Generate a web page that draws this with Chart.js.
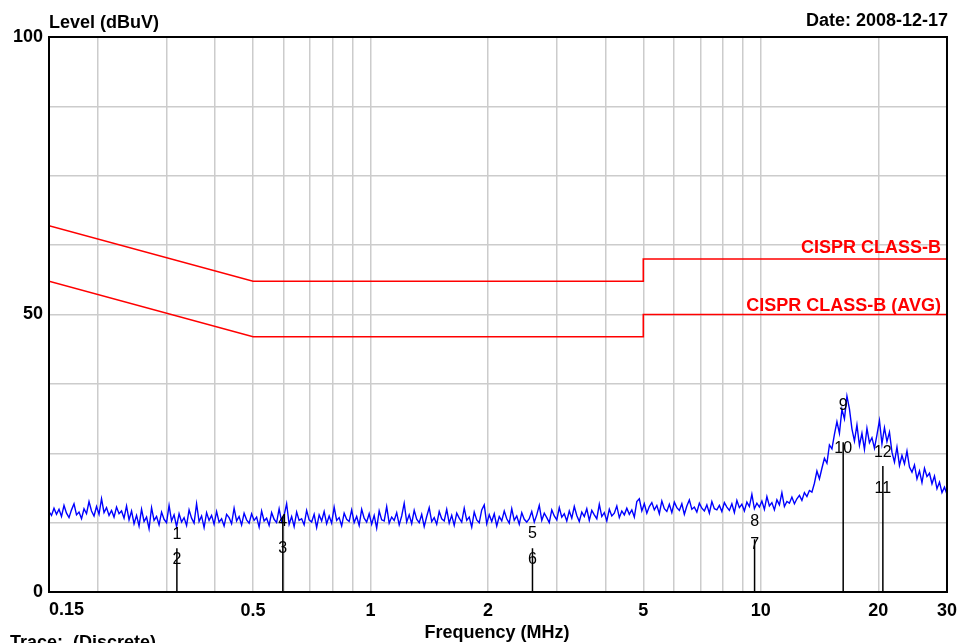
<!DOCTYPE html>
<html>
<head>
<meta charset="utf-8">
<script src="https://cdn.jsdelivr.net/npm/chart.js@4.4.1/dist/chart.umd.min.js"></script>
<style>
  body { margin: 0; background: #fff; }
  canvas { display: block; }
</style>
</head>
<body>
<canvas id="emiChart" width="965" height="643"></canvas>
<script>
// sweep: 0.15 - 30 MHz, levels (dBuV)
const sweepStart = 0.15;
const sweepStop = 30;
const traceLevels = [
  14.5, 13.8, 15.1, 14.0, 14.9, 13.6, 15.6, 14.2, 13.4, 14.8, 15.9, 13.9, 14.4, 13.2, 15.0, 14.1,
  16.3, 14.6, 13.7, 15.4, 14.0, 16.8, 14.3, 15.2, 13.8, 14.7, 13.5, 15.3, 14.1, 14.6, 13.3, 15.5,
  13.0, 14.6, 12.3, 13.8, 11.9, 14.9, 12.7, 13.5, 11.4, 15.2, 12.9, 13.6, 12.1, 14.4, 13.1, 12.5,
  15.6, 12.8, 13.9, 11.8, 14.1, 12.6, 13.4, 12.0, 14.8, 13.3, 12.4, 15.9, 12.7, 13.7, 11.6, 14.3,
  12.9, 13.8, 12.2, 14.5, 12.6, 13.2, 11.9, 14.0, 13.4, 12.3, 15.1, 12.8, 13.6, 12.1, 14.2, 13.0,
  12.4, 14.1, 12.9, 13.5, 11.7, 14.6, 12.8, 13.3, 12.0, 14.3, 13.1, 12.5, 15.0, 12.7, 13.8, 15.9,
  12.2, 13.6, 11.8, 14.4, 12.9, 13.2, 12.1, 14.7, 13.0, 12.6, 14.0, 11.6, 13.9, 12.8, 14.5, 12.3,
  13.7, 12.4, 15.3, 12.9, 13.4, 11.9, 14.2, 13.1, 12.7, 14.8, 12.5, 13.6, 12.0, 14.9, 13.3, 12.6,
  14.1, 12.2, 13.8, 11.5, 14.6, 13.0, 12.8, 15.4, 12.4, 13.5, 12.9, 14.3, 12.1, 13.7, 16.0, 12.6,
  13.9, 12.3, 14.7, 13.1, 12.5, 14.0, 11.8, 13.6, 15.2, 12.7, 13.4, 12.2, 14.5, 13.2, 12.8, 14.9,
  12.4, 13.8, 12.0, 14.2, 13.3, 12.6, 15.1, 12.9, 13.5, 11.7, 14.4, 13.0, 12.5, 14.8, 15.7, 12.3,
  13.9, 12.7, 14.1, 11.9, 13.6, 12.8, 14.6, 13.2, 12.4, 15.0, 12.9, 13.7, 12.2, 14.3, 13.1, 12.6,
  13.2, 14.5, 12.6, 13.9, 15.6, 12.9, 14.2, 13.4, 12.5, 14.8, 13.7, 13.0, 15.2, 13.5, 14.1, 12.8,
  14.6, 13.3, 15.4, 13.8, 12.7, 14.4, 13.6, 15.0, 12.9, 14.7, 13.9, 13.2, 15.8, 13.6, 14.3, 12.8,
  14.9, 13.7, 14.2, 15.5, 13.4, 14.6, 13.9, 15.1, 14.0, 14.8, 13.5, 16.3,
  16.8, 14.6, 15.9, 14.2, 15.4, 16.1, 14.8, 15.6, 14.1, 16.4, 15.0, 14.5, 15.8, 14.3, 16.2, 15.2,
  14.7, 15.9, 14.0, 15.5, 16.6, 14.9, 15.3, 14.4, 16.0, 15.1, 14.6, 15.7, 14.2, 16.3, 15.0, 14.8,
  15.6, 14.5, 16.1, 15.3, 14.7, 15.9, 14.3, 16.5, 15.2, 15.8, 14.6, 16.2, 15.4, 17.6, 15.0, 16.0,
  15.3, 16.4, 14.9, 17.2, 15.5, 16.1, 14.8, 16.6, 15.7, 17.9, 15.4, 16.3,
  16.0, 17.1, 15.9, 16.8, 17.4, 16.5, 17.9, 17.2, 18.3,
  18.0, 19.6, 21.8, 20.4, 22.3,
  24.1, 23.2, 26.5, 25.8, 28.4,
  30.7, 28.6, 32.9, 31.2, 35.3, 33.0,
  29.4, 27.2, 30.1, 26.4, 28.6, 25.7, 29.5, 26.9, 27.8, 25.9,
  28.3, 30.9, 26.7, 29.6, 27.1, 28.8,
  25.2, 23.4, 26.1, 22.8, 24.6, 23.1, 25.4, 22.5,
  21.6, 22.9, 20.4, 21.8, 19.7, 22.3, 20.8, 21.4, 19.5, 20.9,
  18.6, 19.8, 17.9, 18.9, 17.6
];

// CISPR 22 class B limits
const limitFreq = [0.15, 0.5, 5, 5, 30];
const qpLimit = [66, 56, 56, 60, 60];
const avgLimit = [56, 46, 46, 50, 50];

// markers
const markerNo = ['1', '2', '3', '4', '5', '6', '7', '8', '9', '10', '11', '12'];
const markerFreq = [0.319, 0.319, 0.596, 0.596, 2.60, 2.60, 9.64, 9.64, 16.26, 16.26, 20.55, 20.55];
const markerLevel = [10.3, 5.8, 7.9, 12.6, 10.6, 5.9, 8.5, 12.6, 33.5, 25.8, 18.7, 25.2];
const stemFreq = [0.319, 0.596, 2.60, 9.64, 16.26, 20.55];
const stemTop = [7.9, 13.5, 7.9, 9.5, 27.0, 22.7];

// axes
const xGrid = [0.15, 0.2, 0.3, 0.4, 0.5, 0.6, 0.7, 0.8, 0.9, 1, 2, 3, 4, 5, 6, 7, 8, 9, 10, 20, 30];
const xLabels = [0.5, 1, 2, 5, 10, 20, 30];
const yGrid = [0, 12.5, 25, 37.5, 50, 62.5, 75, 87.5, 100];
const yLabels = [0, 50, 100];

const FONT = "'Liberation Sans', Arial, sans-serif";

const traceData = traceLevels.map((v, i) => ({
    x: sweepStart * Math.pow(sweepStop / sweepStart, i / (traceLevels.length - 1)),
    y: v
}));
const stemData = [];
stemFreq.forEach((f, i) => {
    stemData.push({x: f, y: 0}, {x: f, y: stemTop[i]}, {x: f, y: null});
});

const textPlugin = {
    id: 'emiText',
    afterDatasetsDraw(chart) {
        const c = chart.ctx;
        const a = chart.chartArea;
        const xs = chart.scales.x;
        const ys = chart.scales.y;
        c.save();
        // frame
        c.strokeStyle = '#000';
        c.lineWidth = 2;
        c.strokeRect(a.left, a.top, a.right - a.left, a.bottom - a.top);

        // limit names
        c.fillStyle = '#ff0000';
        c.font = 'bold 18px ' + FONT;
        c.textAlign = 'right';
        c.textBaseline = 'alphabetic';
        c.fillText('CISPR CLASS-B', a.right - 6, ys.getPixelForValue(qpLimit[4]) - 6);
        c.fillText('CISPR CLASS-B (AVG)', a.right - 6, ys.getPixelForValue(avgLimit[4]) - 4);

        // marker numbers
        c.fillStyle = '#000';
        c.font = '16px ' + FONT;
        c.textAlign = 'center';
        c.textBaseline = 'middle';
        markerNo.forEach((n, i) => {
            c.fillText(n, xs.getPixelForValue(markerFreq[i]), ys.getPixelForValue(markerLevel[i]));
        });

        // titles
        c.font = 'bold 18px ' + FONT;
        c.textBaseline = 'alphabetic';
        c.textAlign = 'left';
        c.fillText('Level (dBuV)', a.left, 28);
        c.fillText('0.15', xs.getPixelForValue(0.15), 615);
        c.fillText('Trace:  (Discrete)', 10, 648);
        c.textAlign = 'right';
        c.fillText('Date: 2008-12-17', 948, 26);
        c.textAlign = 'center';
        c.fillText('Frequency (MHz)', 497, 638);
        c.restore();
    }
};

const ctx = document.getElementById('emiChart').getContext('2d');

const emiChart = new Chart(ctx, {
    type: 'line',
    data: {
        datasets: [{
            label: 'Markers',
            data: stemData,
            borderColor: '#000000',
            borderWidth: 1.5,
            pointRadius: 0,
            spanGaps: false
        }, {
            label: 'Trace',
            data: traceData,
            borderColor: '#0000ff',
            borderWidth: 1.4,
            pointRadius: 0
        }, {
            label: 'CISPR CLASS-B',
            data: limitFreq.map((f, i) => ({x: f, y: qpLimit[i]})),
            borderColor: '#ff0000',
            borderWidth: 1.6,
            pointRadius: 0
        }, {
            label: 'CISPR CLASS-B (AVG)',
            data: limitFreq.map((f, i) => ({x: f, y: avgLimit[i]})),
            borderColor: '#ff0000',
            borderWidth: 1.6,
            pointRadius: 0
        }]
    },
    options: {
        responsive: false,
        animation: false,
        layout: {padding: {top: 37, right: 18, left: 0, bottom: 0}},
        scales: {
            x: {
                type: 'logarithmic',
                min: 0.15,
                max: 30,
                afterBuildTicks: s => { s.ticks = xGrid.map(v => ({value: v})); },
                afterFit: s => { s.height = 51; },
                ticks: {
                    autoSkip: false,
                    maxRotation: 0,
                    padding: 8,
                    color: '#000',
                    font: {size: 18, weight: 'bold', family: FONT},
                    callback: v => xLabels.includes(v) ? String(v) : ''
                },
                grid: {color: '#cccccc', lineWidth: 1.5, drawTicks: false},
                border: {color: '#000', width: 2}
            },
            y: {
                min: 0,
                max: 100,
                afterBuildTicks: s => { s.ticks = yGrid.map(v => ({value: v})); },
                afterFit: s => { s.width = 49; },
                ticks: {
                    autoSkip: false,
                    padding: 6,
                    color: '#000',
                    font: {size: 18, weight: 'bold', family: FONT},
                    callback: v => yLabels.includes(v) ? String(v) : ''
                },
                grid: {color: '#cccccc', lineWidth: 1.5, drawTicks: false},
                border: {color: '#000', width: 2}
            }
        },
        plugins: {
            legend: {display: false},
            tooltip: {enabled: false}
        }
    },
    plugins: [textPlugin]
});
</script>
</body>
</html>
